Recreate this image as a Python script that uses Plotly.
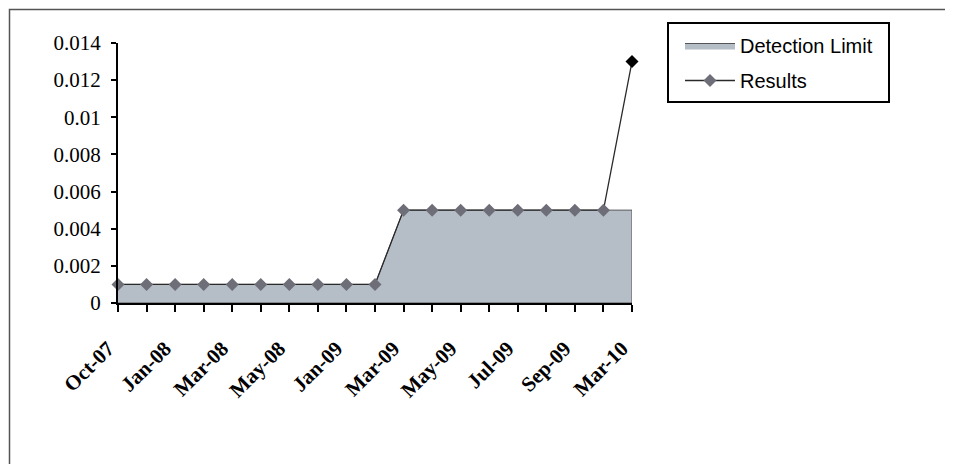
import plotly.graph_objects as go

# sampling dates (only every other one is labelled on the axis)
dates = ["Oct-07", "", "Jan-08", "", "Mar-08", "", "May-08", "", "Jan-09", "",
         "Mar-09", "", "May-09", "", "Jul-09", "", "Sep-09", "", "Mar-10"]
detection_limit = [0.001, 0.001, 0.001, 0.001, 0.001, 0.001, 0.001, 0.001, 0.001, 0.001,
                   0.005, 0.005, 0.005, 0.005, 0.005, 0.005, 0.005, 0.005, 0.005]
results = [0.001, 0.001, 0.001, 0.001, 0.001, 0.001, 0.001, 0.001, 0.001, 0.001,
           0.005, 0.005, 0.005, 0.005, 0.005, 0.005, 0.005, 0.005, 0.013]

idx = list(range(len(dates)))

fig = go.Figure()

# detection limit area, closed down to zero so the right edge gets outlined
fig.add_trace(go.Scatter(
    x=idx + idx[::-1],
    y=detection_limit + [0] * len(idx),
    name="Detection Limit",
    mode="lines",
    fill="toself",
    fillcolor="#b5bdc6",
    line=dict(color="#555555", width=1),
    legendgroup="a",
    hoverinfo="skip",
))

marker_colors = ["#6e6e78" if r == d else "black" for r, d in zip(results, detection_limit)]
fig.add_trace(go.Scatter(
    x=idx,
    y=results,
    name="Results",
    mode="lines+markers",
    line=dict(color="#2a2a2a", width=1.3),
    marker=dict(symbol="diamond", size=10, color=marker_colors, line=dict(width=0)),
    cliponaxis=False,
    legendgroup="b",
))

# page body has an 8px margin, so the figure is drawn 8px in from the window corner
OFF = 8
W, H = 953 - OFF, 468 - OFF
L, R, T, B = 118 - OFF, 953 - 632, 43 - OFF, 468 - 303
pw, ph = W - L - R, H - T - B

def px(x):
    return (x - OFF - L) / pw

def py(y):
    return (H - B - (y - OFF)) / ph

fig.update_layout(
    width=W,
    height=H,
    margin=dict(l=L, r=R, t=T, b=B),
    plot_bgcolor="white",
    paper_bgcolor="white",
    showlegend=True,
    legend=dict(
        x=px(680), y=py(26), xanchor="left", yanchor="top",
        font=dict(family="Liberation Sans", size=20, color="black"),
        bgcolor="rgba(0,0,0,0)",
        borderwidth=0,
        itemwidth=50,
        tracegroupgap=6,
    ),
    xaxis=dict(
        range=[0, len(idx) - 1],
        tickvals=idx,
        ticktext=dates,
        tickangle=-45,
        ticks="outside",
        ticklen=7,
        tickwidth=1.5,
        tickcolor="black",
        showline=True,
        linecolor="black",
        linewidth=2,
        showgrid=False,
        zeroline=False,
        ticklabelstandoff=16,
        ticklabelshift=-10,
        tickfont=dict(family="Liberation Serif", size=21, color="black", weight="bold"),
    ),
    yaxis=dict(
        range=[0, 0.014],
        dtick=0.002,
        ticks="outside",
        ticklen=5,
        tickwidth=1.5,
        tickcolor="black",
        showline=True,
        linecolor="black",
        linewidth=2,
        showgrid=False,
        zeroline=False,
        ticklabelstandoff=6,
        tickfont=dict(family="Liberation Serif", size=21, color="black"),
    ),
    shapes=[
        # legend box
        dict(type="rect", xref="paper", yref="paper",
             x0=px(668), x1=px(889), y0=py(102), y1=py(23),
             line=dict(color="black", width=2)),
        # outer chart frame (left and top edges)
        dict(type="path", xref="paper", yref="paper",
             path=f"M {px(9.5)},{py(464)} L {px(9.5)},{py(9.5)} L {px(953)},{py(9.5)}",
             line=dict(color="#555555", width=1.5)),
    ],
)

fig.write_html("out.html")
